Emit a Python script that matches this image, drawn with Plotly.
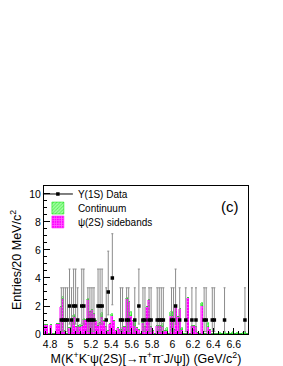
import numpy as np
import plotly.graph_objects as go

# ---- data ----
bin_centers = np.round(4.75 + 0.02 * np.arange(100), 2)

sideband_vals = [
    0.65, 0.65, 0.0, 0.65, 0.0, 0.0, 0.7, 0.7, 1.9, 2.5,
    0.2, 0.0, 0.4, 1.1, 1.2, 0.5, 0.6, 0.5, 0.6, 1.0,
    1.0, 2.4, 1.6, 1.7, 1.4, 0.9, 0.6, 0.8, 1.2, 0.9,
    0.5, 0.2, 0.7, 1.3, 0.9, 0.2, 0.4, 0.3, 0.5, 0.5,
    2.5, 2.3, 1.3, 0.9, 0.6, 0.4, 0.3, 0.0, 0.8, 0.5,
    1.9, 2.4, 0.5, 0.2, 0.0, 0.6, 0.6, 0.6, 0.5, 0.2,
    0.2, 0.0, 1.3, 0.3, 2.0, 1.2, 1.8, 0.3, 0.0, 0.0,
    2.55, 0.0, 0.6, 0.6, 0.5, 0.1, 0.0, 2.0, 0.0, 0.0,
    0.5, 0.3, 0.0, 0.0, 0.0, 0.0, 0.0, 0.0, 0.0, 0.0,
    0.0, 0.0, 0.0, 0.0, 0.0, 0.0, 0.0, 0.0, 0.0, 0.0,
]

continuum_vals = [
    0.0, 0.0, 0.0, 0.0, 0.0, 0.0, 0.0, 0.0, 0.0, 0.12,
    0.0, 0.0, 0.0, 0.0, 0.15, 0.0, 0.0, 0.15, 0.0, 0.1,
    0.0, 0.1, 0.0, 0.0, 0.0, 0.0, 0.0, 0.0, 0.3, 0.0,
    0.0, 0.0, 0.0, 0.1, 0.0, 0.0, 0.0, 0.0, 0.0, 0.0,
    0.1, 0.0, 0.3, 0.0, 0.3, 0.0, 0.0, 0.0, 0.25, 0.0,
    0.0, 0.0, 0.0, 0.0, 0.0, 0.0, 0.0, 0.0, 0.2, 0.0,
    0.2, 0.0, 0.3, 0.0, 0.0, 0.0, 0.0, 0.15, 0.0, 0.0,
    0.0, 0.0, 0.0, 0.0, 0.0, 0.0, 0.0, 0.25, 0.0, 0.0,
    0.3, 0.0, 0.0, 0.0, 0.0, 0.0, 0.08, 0.0, 0.1, 0.0,
    0.05, 0.0, 0.15, 0.0, 0.05, 0.0, 0.0, 0.1, 0.12, 0.0,
]

data_mass = [4.91, 4.93, 4.95, 4.97, 4.99, 5.01, 5.03, 5.05, 5.07, 5.11,
             5.13, 5.17, 5.19, 5.21, 5.23, 5.27, 5.29, 5.31, 5.35, 5.37,
             5.41, 5.49, 5.51, 5.55, 5.57, 5.63, 5.67, 5.71, 5.73, 5.77,
             5.79, 5.85, 5.87, 5.89, 5.91, 5.99, 6.01, 6.03, 6.07, 6.13,
             6.19, 6.23, 6.31, 6.33, 6.39, 6.41, 6.51, 6.71]
data_counts = [1, 1, 1, 1, 2, 1, 2, 2, 1, 2,
               2, 1, 1, 1, 1, 2, 2, 2, 1, 3,
               4, 1, 1, 1, 1, 1, 2, 1, 1, 1,
               1, 1, 1, 1, 1, 1, 1, 2, 1, 1,
               1, 1, 1, 1, 1, 1, 1, 1]

# Poisson 68% intervals (ROOT kPoisson)
poisson_lo = {1: 0.827, 2: 1.292, 3: 1.633, 4: 1.914}
poisson_hi = {1: 2.300, 2: 2.638, 3: 2.918, 4: 3.162}

err_lo = [poisson_lo[c] for c in data_counts]
err_hi = [poisson_hi[c] for c in data_counts]

FONT = "Liberation Sans, Arial, sans-serif"

fig = go.Figure()

fig.add_trace(go.Bar(
    x=bin_centers, y=sideband_vals, width=0.02,
    name="ψ(2S) sidebands", legend="legend3",
    marker=dict(color="#ff00ff",
                line=dict(color="#ff00ff", width=0.5),
                pattern=dict(shape="+", fgcolor="#ffc8ff", size=3, solidity=0.5,
                             fillmode="overlay")),
))
fig.add_trace(go.Bar(
    x=bin_centers, y=continuum_vals, width=0.02,
    name="Continuum", legend="legend2",
    marker=dict(color="#aaffaa",
                line=dict(color="#00dd00", width=0.5),
                pattern=dict(shape="/", fgcolor="#00dd00", size=3, solidity=0.4,
                             fillmode="overlay")),
))
fig.add_trace(go.Scatter(
    x=data_mass, y=data_counts, mode="markers",
    name="Υ(1S) Data", showlegend=False,
    marker=dict(color="black", symbol="square", size=3.5),
    error_y=dict(type="data", symmetric=False, array=err_hi, arrayminus=err_lo,
                 color="#8c8c8c", thickness=1, width=1),
    error_x=dict(type="constant", value=0.01, color="black", thickness=1.2, width=0),
))
# legend entry for data (line + marker look)
fig.add_trace(go.Scatter(
    x=[None], y=[None], mode="lines+markers", name="Υ(1S) Data", legend="legend",
    line=dict(color="black", width=1),
    marker=dict(color="black", symbol="square", size=3.5),
))

fig.add_annotation(text="(c)", x=0.966, y=0.935, xref="paper", yref="paper",
                   xanchor="right", yanchor="top", showarrow=False,
                   font=dict(family=FONT, size=15, color="black"))

leg_common = dict(x=-0.03, xanchor="left", yanchor="middle",
                  bgcolor="rgba(0,0,0,0)", font=dict(size=10), itemwidth=30)

fig.update_layout(
    width=283, height=366,
    margin=dict(l=36, r=43, t=178, b=40),
    paper_bgcolor="white", plot_bgcolor="white",
    barmode="stack", bargap=0,
    font=dict(family=FONT, size=10, color="black"),
    legend=dict(y=0.946, **leg_common),
    legend2=dict(y=0.851, **leg_common),
    legend3=dict(y=0.757, **leg_common),
    xaxis=dict(range=[4.74, 6.74], dtick=0.2, tick0=4.8,
               ticks="inside", ticklen=6, tickcolor="black",
               minor=dict(dtick=0.05, ticklen=3, ticks="inside", tickcolor="black"),
               showline=True, linecolor="black", linewidth=1, mirror=True,
               showgrid=False, zeroline=False, automargin=False,
               tickfont=dict(size=10.5),
               title=dict(text="M(K<sup>+</sup>K<sup>-</sup>ψ(2S)[→π<sup>+</sup>π<sup>-</sup>J/ψ]) (GeV/c<sup>2</sup>)",
                          font=dict(size=12.5), standoff=3)),
    yaxis=dict(range=[0, 10.57], dtick=2, tick0=0,
               ticks="inside", ticklen=6, tickcolor="black",
               minor=dict(dtick=0.5, ticklen=3, ticks="inside", tickcolor="black"),
               showline=True, linecolor="black", linewidth=1, mirror=True,
               showgrid=False, zeroline=False, automargin=False,
               tickfont=dict(size=10.5),
               title=dict(text="Entries/20 MeV/c<sup>2</sup>",
                          font=dict(size=12.5), standoff=12)),
)

fig.write_html("out.html")
